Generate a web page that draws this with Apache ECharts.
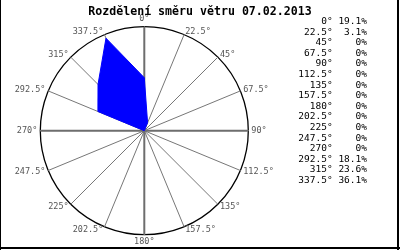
<!DOCTYPE html>
<html>
<head>
<meta charset="utf-8">
<script src="https://cdn.jsdelivr.net/npm/echarts@6/dist/echarts.min.js"></script>
<style>html,body{margin:0;padding:0;background:#fff}#c{width:400px;height:250px}</style>
</head>
<body>
<div id="c"></div>
<script>
var titleText = 'Rozdělení směru větru 07.02.2013';
var directions = ['0°','22.5°','45°','67.5°','90°','112.5°','135°','157.5°','180°','202.5°','225°','247.5°','270°','292.5°','315°','337.5°'];
var values = [19.1, 3.1, 0, 0, 0, 0, 0, 0, 0, 0, 0, 0, 0, 18.1, 23.6, 36.1];
var valueLabels = ['19.1%','3.1%','0%','0%','0%','0%','0%','0%','0%','0%','0%','0%','0%','18.1%','23.6%','36.1%'];
var radialMax = 37.5;

// radar goes counter-clockwise: reorder so directions run clockwise
var order = [0];
for (var i = directions.length - 1; i > 0; i--) order.push(i);
var indicators = order.map(function (i) { return { name: directions[i], max: radialMax, min: 0 }; });
var radarValues = order.map(function (i) { return values[i]; });

function pad(s, n) { while (s.length < n) s = ' ' + s; return s; }

var mono = '"DejaVu Sans Mono", "Liberation Mono", monospace';
var legendItems = [];
var rowY0 = 21.5, rowStep = 10.6;
directions.forEach(function (d, i) {
  legendItems.push({ type: 'text', x: 367, y: rowY0 + i * rowStep,
    style: { text: pad(d, 6) + ' ' + pad(valueLabels[i], 5), fill: '#000', font: '9.5px ' + mono,
      textAlign: 'right', textVerticalAlign: 'middle' } });
});

var chart = echarts.init(document.getElementById('c'), null, { renderer: 'canvas' });
chart.setOption({
  animation: false,
  backgroundColor: '#fff',
  title: { text: titleText, left: 'center', top: 1,
    textStyle: { fontFamily: mono, fontSize: 11.6, fontWeight: 'bold', color: '#000' } },
  polar: { center: [144.3, 130.7], radius: 104 },
  angleAxis: { type: 'value', min: 0, max: 360, interval: 90, startAngle: 90, clockwise: true,
    axisLine: { show: false }, axisTick: { show: false }, axisLabel: { show: false },
    splitLine: { show: true, lineStyle: { color: '#6e6e6e', width: 2 } }, z: 1 },
  radiusAxis: { type: 'value', min: 0, max: radialMax, show: false, splitLine: { show: false } },
  radar: {
    center: [144.3, 130.7], radius: 104, startAngle: 90, splitNumber: 1, shape: 'circle',
    indicator: indicators, nameGap: 3,
    axisName: { color: '#555', fontFamily: mono, fontSize: 8.5 },
    axisLine: { lineStyle: { color: '#777', width: 1 } },
    splitLine: { lineStyle: { color: '#000', width: 1.3 } },
    splitArea: { show: false }
  },
  series: [{
    type: 'radar', symbol: 'none', z: 3,
    lineStyle: { color: '#0000ff', width: 1 },
    areaStyle: { color: '#0000ff', opacity: 1 },
    data: [{ value: radarValues }]
  }],
  graphic: legendItems.concat([
    { type: 'line', shape: { x1: 0.5, y1: 0, x2: 0.5, y2: 250 }, style: { stroke: '#000', lineWidth: 1 } },
    { type: 'line', shape: { x1: 398, y1: 0, x2: 398, y2: 250 }, style: { stroke: '#000', lineWidth: 2 } },
    { type: 'line', shape: { x1: 0, y1: 248, x2: 400, y2: 248 }, style: { stroke: '#000', lineWidth: 2 } }
  ])
});
</script>
</body>
</html>
